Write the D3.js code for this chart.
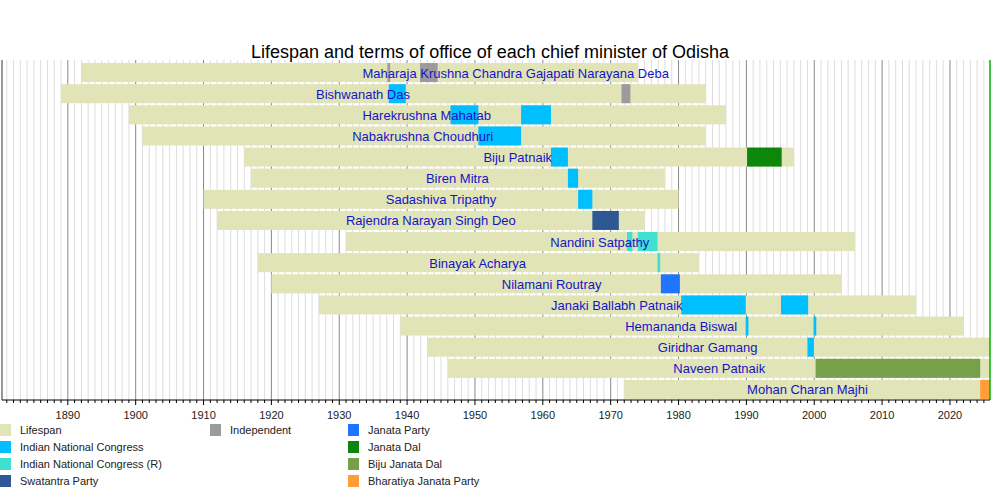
<!DOCTYPE html>
<html><head><meta charset="utf-8">
<script src="https://cdn.jsdelivr.net/npm/d3@7"></script>
<style>body{margin:0;background:#fff}text{font-family:"Liberation Sans",Arial,sans-serif}</style>
</head><body><svg id="c" width="1000" height="500"></svg>
<script>
const names=["Maharaja Krushna Chandra Gajapati Narayana Deba","Bishwanath Das","Harekrushna Mahatab","Nabakrushna Choudhuri","Biju Patnaik","Biren Mitra","Sadashiva Tripathy","Rajendra Narayan Singh Deo","Nandini Satpathy","Binayak Acharya","Nilamani Routray","Janaki Ballabh Patnaik","Hemananda Biswal","Giridhar Gamang","Naveen Patnaik","Mohan Charan Majhi"];
const born=[1892,1889,1899,1901,1916,1917,1910,1912,1931,1918,1920,1927,1939,1943,1946,1972];
const died=[1974,1984,1987,1984,1997,1978,1980,1975,2006,1983,2004,2015,2022,2026,2026,2026];
const labelYear=[1956.0,1933.5,1942.9,1942.3,1956.3,1947.4,1945.0,1943.5,1968.4,1950.4,1961.3,1970.9,1980.4,1984.3,1986.0,1999.0];
// terms: [row, start, end, party]
const terms=[[0,1937.1,1937.5,"Independent"],[0,1941.9,1944.5,"Independent"],
[1,1937.3,1939.8,"Indian National Congress"],[1,1971.6,1972.9,"Independent"],
[2,1946.4,1950.5,"Indian National Congress"],[2,1956.8,1961.2,"Indian National Congress"],
[3,1950.5,1956.8,"Indian National Congress"],
[4,1961.2,1963.7,"Indian National Congress"],[4,1990.1,1995.2,"Janata Dal"],
[5,1963.7,1965.2,"Indian National Congress"],
[6,1965.2,1967.3,"Indian National Congress"],
[7,1967.3,1971.2,"Swatantra Party"],
[8,1972.4,1973.2,"Indian National Congress (R)"],[8,1974.0,1976.9,"Indian National Congress (R)"],
[9,1976.9,1977.3,"Indian National Congress (R)"],
[10,1977.4,1980.2,"Janata Party"],
[11,1980.4,1989.9,"Indian National Congress"],[11,1995.1,1999.1,"Indian National Congress"],
[12,1989.9,1990.3,"Indian National Congress"],[12,1999.9,2000.3,"Indian National Congress"],
[13,1999.0,1999.95,"Indian National Congress"],
[14,2000.2,2024.45,"Biju Janata Dal"],
[15,2024.45,2026,"Bharatiya Janata Party"]];
const legendItems=["Lifespan","Indian National Congress","Indian National Congress (R)","Swatantra Party","Independent","Janata Party","Janata Dal","Biju Janata Dal","Bharatiya Janata Party"];
const legendColors=["#e1e4b7","#00bfff","#40e0d0","#2e5894","#9b9b9b","#1f75fe","#0c870c","#77a04b","#ff9e37"];
const color=d3.scaleOrdinal(legendItems,legendColors);

const svg=d3.select("#c");
const x=d3.scaleLinear().domain([1880.3,2025.9]).range([2,990]);
const y=d3.scaleBand().domain(d3.range(names.length)).range([62,400]).paddingInner(0.1).paddingOuter(0.05);
const g=svg.append("g");
g.append("defs").append("clipPath").attr("id","cp").append("rect").attr("x",2).attr("y",55).attr("width",988).attr("height",350);
const clip=g.append("g").attr("clip-path","url(#cp)");
// grid
const years=d3.range(1881,2026);
clip.selectAll(".mg").data(years.filter(v=>v%10)).join("line").attr("x1",d=>x(d)).attr("x2",d=>x(d)).attr("y1",60).attr("y2",400).attr("stroke","#ddd");
clip.selectAll(".Mg").data(years.filter(v=>v%10==0)).join("line").attr("x1",d=>x(d)).attr("x2",d=>x(d)).attr("y1",60).attr("y2",400).attr("stroke","#888");
clip.selectAll(".life").data(names).join("rect").attr("x",(d,i)=>x(born[i])).attr("width",(d,i)=>x(died[i])-x(born[i])).attr("y",(d,i)=>y(i)).attr("height",y.bandwidth()).attr("fill",color("Lifespan"));
clip.selectAll(".term").data(terms).join("rect").attr("x",d=>x(d[1])).attr("width",d=>x(d[2])-x(d[1])).attr("y",d=>y(d[0])).attr("height",y.bandwidth()).attr("fill",d=>color(d[3]));
g.selectAll(".lbl").data(names).join("text").attr("x",(d,i)=>x(labelYear[i])).attr("y",(d,i)=>y(i)+y.bandwidth()/2+5).attr("text-anchor","middle").attr("font-size",13).attr("fill","#1414c8").text(d=>d);
g.append("line").attr("x1",2).attr("x2",2).attr("y1",60).attr("y2",400).attr("stroke","#333");
g.append("line").attr("x1",990).attr("x2",990).attr("y1",60).attr("y2",400).attr("stroke","#00b000").attr("stroke-width",1.5);
// axis
const ax=g.append("g").attr("transform","translate(0,400)");
ax.append("line").attr("x1",2).attr("x2",990).attr("stroke","#000");
ax.selectAll(".t").data(years).join("line").attr("x1",d=>x(d)).attr("x2",d=>x(d)).attr("y1",0).attr("y2",d=>d%10?3:5).attr("stroke","#000");
ax.selectAll(".tl").data(years.filter(v=>v%10==0)).join("text").attr("x",d=>x(d)).attr("y",19).attr("text-anchor","middle").attr("font-size",11).attr("fill","#222").text(d=>d);
svg.append("text").attr("x",490).attr("y",58).attr("text-anchor","middle").attr("font-size",18).attr("fill","#000").text("Lifespan and terms of office of each chief minister of Odisha");
// legend
const lpos=[[0,0],[0,1],[0,2],[0,3],[1,0],[2,0],[2,1],[2,2],[2,3]];
const lx=[0,210,348];
const lg=svg.selectAll(".lg").data(legendItems).join("g").attr("transform",(d,i)=>`translate(${lx[lpos[i][0]]},${424+lpos[i][1]*17})`);
lg.append("rect").attr("width",11).attr("height",12).attr("fill",d=>color(d));
lg.append("text").attr("x",20).attr("y",10).attr("font-size",11).attr("fill","#222").text(d=>d);
</script></body></html>
